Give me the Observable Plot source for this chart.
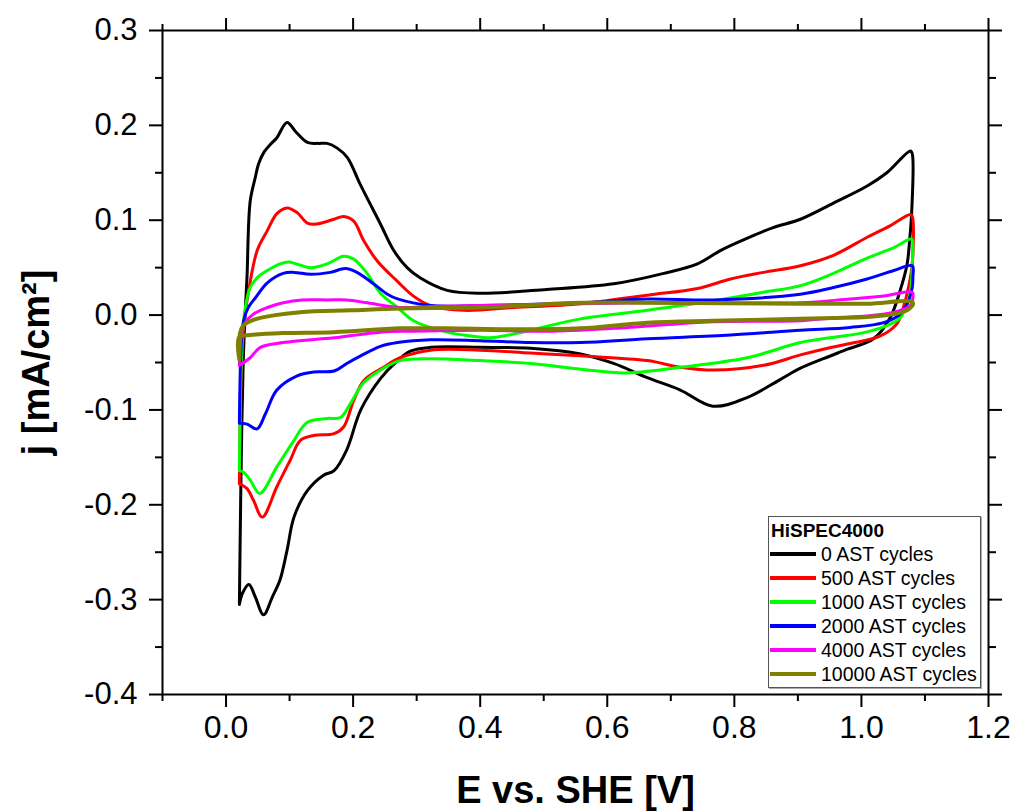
<!DOCTYPE html>
<html><head><meta charset="utf-8">
<script src="https://cdn.jsdelivr.net/npm/d3@7"></script>
<script src="https://cdn.jsdelivr.net/npm/@observablehq/plot@0.6"></script>
<style>
body{margin:0;background:#fff;}
#wrap{position:relative;width:1015px;height:812px;font-family:"Liberation Sans",Arial,sans-serif;color:#000;}
#legend{position:absolute;left:768px;top:516px;width:213px;height:172px;border:1.5px solid #555;box-shadow:1px 1px 0 #aaa;background:#fff;box-sizing:border-box;}
#legend .title{position:absolute;left:2px;top:3px;font-weight:bold;font-size:19px;line-height:22px;}
#legend .row{position:absolute;left:1px;height:22px;display:flex;align-items:center;font-size:19.5px;white-space:nowrap;}
#legend .sw{width:46px;height:3.5px;margin-right:5px;}
</style></head><body><div id="wrap"></div>
<script>
// ---- data (E vs. SHE [V], j [mA/cm²]) ----
const seriesNames = ["0 AST cycles","500 AST cycles","1000 AST cycles","2000 AST cycles","4000 AST cycles","10000 AST cycles"];
const seriesColors = ["#000000","#ff0000","#00ff00","#0000ff","#ff00ff","#808000"];
const legendTitle = "HiSPEC4000";

const cv0 = [[0.021,-0.305],[0.022,-0.25],[0.024,-0.15],[0.027,-0.05],[0.030,0.0],[0.033,0.04],[0.038,0.12],[0.046,0.145],[0.051,0.159],[0.060,0.172],[0.070,0.180],[0.080,0.187],[0.096,0.203],[0.110,0.193],[0.128,0.182],[0.145,0.181],[0.159,0.181],[0.175,0.176],[0.191,0.166],[0.211,0.138],[0.243,0.096],[0.264,0.068],[0.285,0.050],[0.306,0.039],[0.348,0.026],[0.400,0.023],[0.505,0.027],[0.610,0.033],[0.689,0.044],[0.742,0.054],[0.778,0.068],[0.810,0.078],[0.860,0.092],[0.904,0.101],[0.956,0.118],[1.009,0.136],[1.040,0.150],[1.077,0.173],[1.080,0.170],[1.079,0.107],[1.076,0.080],[1.072,0.054],[1.061,0.026],[1.045,-0.003],[1.019,-0.025],[0.978,-0.036],[0.940,-0.046],[0.904,-0.056],[0.872,-0.068],[0.820,-0.087],[0.766,-0.096],[0.715,-0.079],[0.663,-0.066],[0.610,-0.051],[0.558,-0.041],[0.479,-0.035],[0.400,-0.034],[0.322,-0.034],[0.290,-0.038],[0.270,-0.048],[0.243,-0.067],[0.212,-0.100],[0.190,-0.142],[0.170,-0.164],[0.153,-0.169],[0.128,-0.185],[0.107,-0.213],[0.096,-0.248],[0.085,-0.279],[0.073,-0.297],[0.059,-0.316],[0.046,-0.297],[0.036,-0.284],[0.026,-0.293],[0.021,-0.305]];

const cv500 = [[0.021,-0.178],[0.022,-0.12],[0.024,-0.06],[0.028,-0.01],[0.033,0.015],[0.049,0.068],[0.065,0.089],[0.080,0.107],[0.096,0.113],[0.112,0.108],[0.128,0.097],[0.143,0.096],[0.170,0.101],[0.185,0.104],[0.201,0.099],[0.217,0.078],[0.238,0.057],[0.269,0.036],[0.295,0.020],[0.322,0.010],[0.374,0.005],[0.453,0.008],[0.558,0.012],[0.663,0.021],[0.742,0.028],[0.794,0.038],[0.846,0.045],[0.904,0.052],[0.956,0.063],[1.009,0.082],[1.045,0.094],[1.077,0.106],[1.080,0.104],[1.080,0.054],[1.074,0.029],[1.066,0.008],[1.056,-0.009],[1.030,-0.022],[0.982,-0.030],[0.940,-0.036],[0.904,-0.042],[0.846,-0.053],[0.767,-0.058],[0.715,-0.055],[0.663,-0.048],[0.558,-0.043],[0.479,-0.040],[0.400,-0.037],[0.322,-0.037],[0.274,-0.045],[0.248,-0.055],[0.217,-0.069],[0.201,-0.090],[0.185,-0.118],[0.170,-0.125],[0.138,-0.127],[0.117,-0.132],[0.101,-0.153],[0.080,-0.181],[0.057,-0.213],[0.043,-0.195],[0.033,-0.183],[0.021,-0.178]];

const cv1000 = [[0.021,-0.164],[0.022,-0.11],[0.024,-0.05],[0.027,-0.01],[0.031,0.010],[0.038,0.029],[0.050,0.040],[0.065,0.047],[0.085,0.054],[0.099,0.056],[0.115,0.053],[0.133,0.050],[0.159,0.054],[0.185,0.062],[0.201,0.059],[0.222,0.044],[0.243,0.023],[0.270,0.008],[0.295,-0.006],[0.348,-0.018],[0.385,-0.022],[0.416,-0.024],[0.445,-0.021],[0.479,-0.016],[0.558,-0.004],[0.663,0.005],[0.767,0.015],[0.846,0.024],[0.904,0.031],[0.956,0.044],[1.009,0.060],[1.051,0.071],[1.079,0.080],[1.081,0.070],[1.080,0.054],[1.078,0.029],[1.072,0.012],[1.061,-0.003],[1.040,-0.011],[1.000,-0.019],[0.950,-0.024],[0.904,-0.029],[0.820,-0.045],[0.715,-0.055],[0.626,-0.061],[0.558,-0.057],[0.479,-0.051],[0.400,-0.048],[0.322,-0.046],[0.274,-0.048],[0.248,-0.056],[0.217,-0.071],[0.196,-0.093],[0.180,-0.108],[0.159,-0.109],[0.128,-0.113],[0.107,-0.132],[0.080,-0.160],[0.053,-0.188],[0.038,-0.174],[0.028,-0.166],[0.021,-0.164]];

const cv2000 = [[0.021,-0.114],[0.022,-0.07],[0.024,-0.03],[0.028,-0.005],[0.035,0.008],[0.046,0.018],[0.065,0.034],[0.090,0.044],[0.107,0.045],[0.133,0.043],[0.164,0.045],[0.188,0.049],[0.206,0.045],[0.232,0.033],[0.254,0.022],[0.270,0.017],[0.322,0.010],[0.400,0.010],[0.558,0.013],[0.663,0.017],[0.767,0.016],[0.904,0.022],[0.956,0.029],[1.009,0.038],[1.051,0.047],[1.080,0.052],[1.081,0.040],[1.080,0.029],[1.074,0.015],[1.061,0.001],[1.035,-0.008],[0.982,-0.013],[0.904,-0.016],[0.794,-0.021],[0.663,-0.025],[0.558,-0.029],[0.479,-0.029],[0.400,-0.027],[0.322,-0.026],[0.270,-0.029],[0.243,-0.033],[0.212,-0.043],[0.190,-0.051],[0.170,-0.059],[0.138,-0.060],[0.112,-0.064],[0.080,-0.079],[0.062,-0.104],[0.049,-0.120],[0.033,-0.115],[0.021,-0.114]];

const cv4000 = [[0.021,-0.053],[0.022,-0.035],[0.025,-0.018],[0.030,-0.008],[0.043,0.001],[0.065,0.008],[0.090,0.013],[0.120,0.016],[0.160,0.016],[0.190,0.016],[0.222,0.013],[0.274,0.008],[0.322,0.009],[0.400,0.010],[0.558,0.012],[0.663,0.013],[0.767,0.013],[0.904,0.013],[0.982,0.017],[1.035,0.020],[1.080,0.024],[1.081,0.018],[1.079,0.012],[1.072,0.008],[1.051,0.003],[1.009,-0.001],[0.956,-0.003],[0.904,-0.006],[0.767,-0.007],[0.610,-0.014],[0.505,-0.017],[0.400,-0.016],[0.295,-0.017],[0.243,-0.018],[0.170,-0.024],[0.090,-0.029],[0.054,-0.034],[0.038,-0.045],[0.021,-0.053]];

const cv10000 = [[0.021,-0.047],[0.021,-0.030],[0.022,-0.019],[0.027,-0.011],[0.033,-0.008],[0.054,-0.003],[0.117,0.003],[0.196,0.005],[0.274,0.007],[0.400,0.008],[0.558,0.013],[0.663,0.013],[0.904,0.012],[1.009,0.012],[1.080,0.014],[1.081,0.011],[1.079,0.009],[1.072,0.005],[1.051,0.001],[1.009,-0.002],[0.956,-0.003],[0.904,-0.004],[0.767,-0.006],[0.663,-0.008],[0.558,-0.014],[0.453,-0.015],[0.348,-0.014],[0.274,-0.014],[0.170,-0.018],[0.090,-0.019],[0.038,-0.021],[0.021,-0.023],[0.021,-0.047]];

const seriesData = [cv0, cv500, cv1000, cv2000, cv4000, cv10000];

const xMajor = [0.0, 0.2, 0.4, 0.6, 0.8, 1.0, 1.2];
const xMinor = [-0.1, 0.1, 0.3, 0.5, 0.7, 0.9, 1.1];
const yMajor = [-0.4, -0.3, -0.2, -0.1, 0.0, 0.1, 0.2, 0.3];
const yMinor = [-0.35, -0.25, -0.15, -0.05, 0.05, 0.15, 0.25];
const xTitle = "E vs. SHE [V]";
const yTitle = "j [mA/cm²]";

// ---- build ----
const rows = seriesData.flatMap((pts, i) => pts.map(([E, j], k) => ({series: seriesNames[i], idx: i, k, E, j})));
const fmt = d => d.toFixed(1);
const none = () => "";

const lineMarks = seriesNames.map((name, i) =>
  Plot.line(rows.filter(r => r.idx === i), {x: "E", y: "j", stroke: seriesColors[i], strokeWidth: i === 5 ? 4 : 3, curve: "catmull-rom", strokeLinejoin: "round", strokeLinecap: "round"}));

const chart = Plot.plot({
  width: 1015, height: 812,
  marginLeft: 162, marginRight: 27, marginTop: 30, marginBottom: 118,
  style: {fontFamily: "'Liberation Sans', Arial, sans-serif", fontSize: "32px", color: "#000", background: "#fff", overflow: "visible"},
  x: {domain: [-0.1, 1.2]},
  y: {domain: [-0.4, 0.3]},
  marks: [
    ...lineMarks,
    Plot.frame({stroke: "#000", strokeWidth: 2}),
    Plot.axisX(xMajor, {anchor: "bottom", tickSize: 13, tickPadding: 8, tickFormat: fmt, strokeWidth: 2, fontSize: 32, label: null}),
    Plot.axisX(xMinor, {anchor: "bottom", tickSize: 7, tickFormat: none, strokeWidth: 2, label: null}),
    Plot.axisX(xMajor, {anchor: "top", tickSize: 13, tickFormat: none, strokeWidth: 2, label: null}),
    Plot.axisX(xMinor, {anchor: "top", tickSize: 7, tickFormat: none, strokeWidth: 2, label: null}),
    Plot.axisY(yMajor, {anchor: "left", tickSize: 13, tickPadding: 12, tickFormat: fmt, strokeWidth: 2, fontSize: 31, label: null}),
    Plot.axisY(yMinor, {anchor: "left", tickSize: 7, tickFormat: none, strokeWidth: 2, label: null}),
    Plot.axisY(yMajor, {anchor: "right", tickSize: 13, tickFormat: none, strokeWidth: 2, label: null}),
    Plot.axisY(yMinor, {anchor: "right", tickSize: 7, tickFormat: none, strokeWidth: 2, label: null}),
    Plot.text([xTitle], {frameAnchor: "bottom", dy: 108, text: d => d, fontSize: 38, fontWeight: "bold", fill: "#000"}),
    Plot.text([yTitle], {frameAnchor: "left", textAnchor: "middle", dx: -126, text: d => d, rotate: -90, fontSize: 38, fontWeight: "bold", fill: "#000"})
  ]
});

const wrap = document.getElementById("wrap");
wrap.appendChild(chart);

// legend (HTML)
const leg = document.createElement("div");
leg.id = "legend";
const t = document.createElement("div");
t.className = "title"; t.textContent = legendTitle;
leg.appendChild(t);
seriesNames.forEach((name, i) => {
  const r = document.createElement("div");
  r.className = "row";
  r.style.top = (26 + i * 24) + "px";
  const sw = document.createElement("span");
  sw.className = "sw"; sw.style.background = seriesColors[i];
  if (i === 5) sw.style.height = "4px";
  const tx = document.createElement("span");
  tx.textContent = name;
  r.appendChild(sw); r.appendChild(tx);
  leg.appendChild(r);
});
wrap.appendChild(leg);
</script></body></html>
